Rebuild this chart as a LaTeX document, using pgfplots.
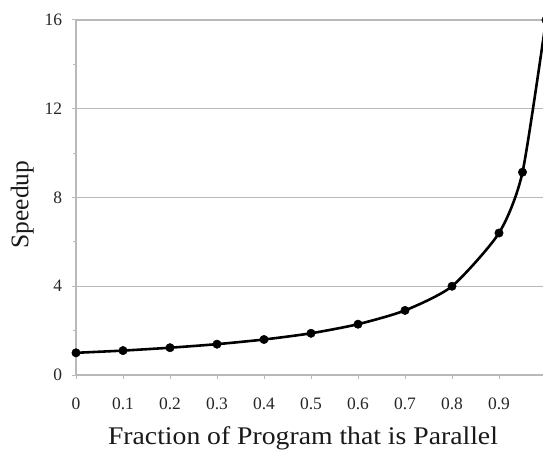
\documentclass[border=0pt]{standalone}
\usepackage{fontspec}
\setmainfont{Liberation Serif}
\usepackage{pgfplots}
\pgfplotsset{compat=1.18}
\definecolor{gridgray}{RGB}{185,185,185}
\begin{document}
\begin{tikzpicture}
\begin{axis}[
  name=ax,
  scale only axis,
  width=470bp, height=355bp,
  xmin=0, xmax=1, ymin=0, ymax=16,
  axis lines=left,
  axis line style={gridgray, line width=1.4pt, -},
  xtick={0,0.1,...,1.01},
  xticklabels={0,0.1,0.2,0.3,0.4,0.5,0.6,0.7,0.8,0.9,{}},
  ytick={0,4,8,12,16},
  minor ytick={2,6,10,14},
  tick align=outside,
  major tick length=4bp,
  minor tick length=3bp,
  tick style={gridgray, line width=1pt},
  ymajorgrids,
  major grid style={gridgray, line width=1.4pt},
  /pgf/number format/assume math mode=true,
  tick label style={font=\fontsize{17.5}{20}\selectfont, text=black!85},
  xticklabel style={yshift=-15bp},
  yticklabel style={xshift=-6.5bp},
  xlabel={\scalebox{1.09}[1]{Fraction of Program that is Parallel}},
  ylabel={Speedup},
  label style={font=\fontsize{25.5}{28}\selectfont, text=black!90},
  xlabel style={yshift=-10bp, xshift=-8bp},
  ylabel style={xshift=-7bp, yshift=4bp},
  clip=false,
]
\addplot[black, line width=2.6pt, smooth, tension=0.4, mark=*, mark size=4.2bp,
  mark options={line width=0.5pt}] coordinates {
  (0,1) (0.1,1.10) (0.2,1.23) (0.3,1.39) (0.4,1.60) (0.5,1.88)
  (0.6,2.29) (0.7,2.91) (0.8,4.00) (0.9,6.40) (0.95,9.14) (1.0,16)
};
\end{axis}
\pgfresetboundingbox
\path ([shift={(-76bp,-79bp)}]ax.south west) rectangle ([shift={(-3bp,20bp)}]ax.north east);
\end{tikzpicture}
\end{document}
